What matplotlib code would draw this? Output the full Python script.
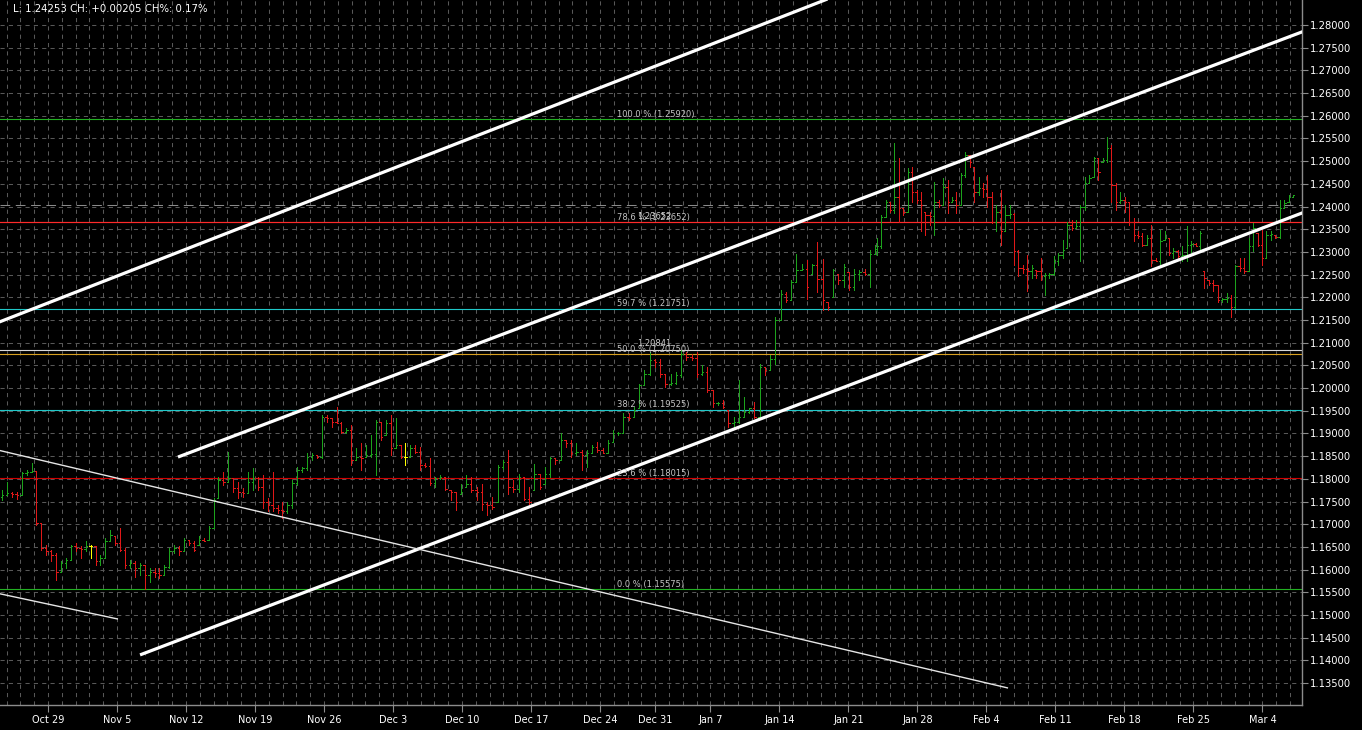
import numpy as np
import matplotlib
matplotlib.use("Agg")
import matplotlib.pyplot as plt
from matplotlib.collections import LineCollection

plt.rcParams["lines.scale_dashes"] = False
plt.rcParams["font.family"] = ["DejaVu Sans"]

# ---- price bars, in three stretches (oldest first) ----
OPEN_FIRST = 1.1760

# late Oct -> mid Dec
HIGH_A = [
    1.1775, 1.1792, 1.1772, 1.1770, 1.1816, 1.1819, 1.1834, 1.1817, 1.1702, 1.1654,
    1.1643, 1.1636, 1.1618, 1.1625, 1.1654, 1.1658, 1.1651, 1.1662, 1.1654, 1.1651,
    1.1632, 1.1669, 1.1687, 1.1673, 1.1691, 1.1647, 1.1621, 1.1618, 1.1614, 1.1610,
    1.1603, 1.1603, 1.1603, 1.1610, 1.1647, 1.1654, 1.1651, 1.1669, 1.1665, 1.1662,
    1.1673, 1.1669, 1.1695, 1.1757, 1.1805, 1.1816, 1.1860, 1.1801, 1.1794, 1.1779,
    1.1816, 1.1823, 1.1805, 1.1808, 1.1757, 1.1816, 1.1742, 1.1750, 1.1750, 1.1797,
    1.1827, 1.1827, 1.1856, 1.1856, 1.1852, 1.1941, 1.1941, 1.1934, 1.1959, 1.1926,
    1.1911, 1.1919, 1.1867, 1.1878, 1.1875, 1.1897, 1.1930, 1.1926, 1.1930, 1.1941,
    1.1934, 1.1875, 1.1878, 1.1875, 1.1875, 1.1871, 1.1834, 1.1845, 1.1805,
]
LOW_A = [
    1.1753, 1.1765, 1.1761, 1.1756, 1.1765, 1.1808, 1.1815, 1.1698, 1.1643, 1.1632,
    1.1618, 1.1577, 1.1595, 1.1603, 1.1621, 1.1640, 1.1625, 1.1640, 1.1625, 1.1610,
    1.1610, 1.1625, 1.1662, 1.1654, 1.1640, 1.1603, 1.1603, 1.1584, 1.1588, 1.1557,
    1.1573, 1.1584, 1.1581, 1.1588, 1.1603, 1.1636, 1.1632, 1.1640, 1.1654, 1.1640,
    1.1654, 1.1662, 1.1665, 1.1691, 1.1757, 1.1786, 1.1794, 1.1772, 1.1757, 1.1761,
    1.1768, 1.1775, 1.1775, 1.1735, 1.1728, 1.1728, 1.1724, 1.1713, 1.1724, 1.1735,
    1.1786, 1.1816, 1.1819, 1.1841, 1.1845, 1.1845, 1.1926, 1.1915, 1.1922, 1.1900,
    1.1900, 1.1830, 1.1841, 1.1819, 1.1849, 1.1849, 1.1808, 1.1886, 1.1897, 1.1852,
    1.1867, 1.1845, 1.1830, 1.1849, 1.1856, 1.1819, 1.1827, 1.1786, 1.1783,
]
CLOSE_A = [
    1.1765, 1.1768, 1.1766, 1.1765, 1.1812, 1.1816, 1.1817, 1.1702, 1.1647, 1.1640,
    1.1632, 1.1595, 1.1614, 1.1621, 1.1651, 1.1647, 1.1645, 1.1651, 1.1651, 1.1618,
    1.1625, 1.1662, 1.1676, 1.1658, 1.1643, 1.1610, 1.1614, 1.1603, 1.1610, 1.1588,
    1.1595, 1.1592, 1.1588, 1.1606, 1.1640, 1.1647, 1.1640, 1.1665, 1.1658, 1.1643,
    1.1665, 1.1664, 1.1691, 1.1753, 1.1797, 1.1794, 1.1801, 1.1779, 1.1772, 1.1768,
    1.1794, 1.1801, 1.1783, 1.1750, 1.1742, 1.1735, 1.1731, 1.1728, 1.1742, 1.1790,
    1.1819, 1.1823, 1.1849, 1.1852, 1.1848, 1.1937, 1.1934, 1.1926, 1.1924, 1.1904,
    1.1908, 1.1841, 1.1849, 1.1845, 1.1852, 1.1854, 1.1926, 1.1893, 1.1922, 1.1867,
    1.1875, 1.1849, 1.1849, 1.1867, 1.1860, 1.1830, 1.1829, 1.1790, 1.1801,
]

# mid Dec -> Jan 24
HIGH_B = [
    1.1808, 1.1804, 1.1775, 1.1771, 1.1789, 1.1808, 1.1804, 1.1782, 1.1789, 1.1749,
    1.1760, 1.1830, 1.1841, 1.1863, 1.1797, 1.1811, 1.1804, 1.1782, 1.1833, 1.1811,
    1.1826, 1.1848, 1.1845, 1.1900, 1.1885, 1.1885, 1.1878, 1.1863, 1.1863, 1.1874,
    1.1881, 1.1867, 1.1885, 1.1907, 1.1903, 1.1944, 1.1944, 1.1958, 1.2010, 1.2039,
    1.2080, 1.2065, 1.2065, 1.2032, 1.2032, 1.2036, 1.2084, 1.2080, 1.2076, 1.2080,
    1.2050, 1.2047, 1.1995, 1.1969, 1.1973, 1.1951, 1.1936, 1.2017, 1.1980, 1.1955,
    1.1969, 1.2054, 1.2047, 1.2072, 1.2157, 1.2216, 1.2212, 1.2238, 1.2296, 1.2274,
    1.2282, 1.2274, 1.2322, 1.2285, 1.2190, 1.2263, 1.2252, 1.2274, 1.2256, 1.2263,
    1.2260, 1.2263, 1.2304, 1.2315,
]
LOW_B = [
    1.1800, 1.1775, 1.1753, 1.1731, 1.1767, 1.1782, 1.1771, 1.1753, 1.1731, 1.1720,
    1.1734, 1.1749, 1.1822, 1.1767, 1.1771, 1.1771, 1.1753, 1.1745, 1.1775, 1.1778,
    1.1789, 1.1804, 1.1833, 1.1841, 1.1870, 1.1848, 1.1852, 1.1819, 1.1826, 1.1856,
    1.1859, 1.1856, 1.1856, 1.1881, 1.1896, 1.1900, 1.1929, 1.1936, 1.1955, 1.2006,
    1.2028, 1.2047, 1.2025, 1.2003, 1.2006, 1.2010, 1.2025, 1.2061, 1.2061, 1.2025,
    1.2028, 1.1991, 1.1958, 1.1962, 1.1955, 1.1914, 1.1914, 1.1922, 1.1936, 1.1944,
    1.1933, 1.1936, 1.2028, 1.2039, 1.2054, 1.2150, 1.2190, 1.2194, 1.2234, 1.2260,
    1.2197, 1.2252, 1.2212, 1.2172, 1.2172, 1.2201, 1.2230, 1.2223, 1.2216, 1.2216,
    1.2238, 1.2249, 1.2223, 1.2296,
]
CLOSE_B = [
    1.1804, 1.1778, 1.1771, 1.1749, 1.1771, 1.1789, 1.1775, 1.1771, 1.1745, 1.1742,
    1.1738, 1.1826, 1.1837, 1.1782, 1.1778, 1.1804, 1.1756, 1.1749, 1.1811, 1.1782,
    1.1811, 1.1845, 1.1841, 1.1885, 1.1878, 1.1856, 1.1859, 1.1852, 1.1856, 1.1870,
    1.1863, 1.1857, 1.1878, 1.1900, 1.1901, 1.1936, 1.1933, 1.1951, 1.2006, 1.2032,
    1.2061, 1.2058, 1.2032, 1.2010, 1.2011, 1.2028, 1.2076, 1.2069, 1.2067, 1.2032,
    1.2036, 1.1995, 1.1966, 1.1967, 1.1958, 1.1922, 1.1925, 1.1936, 1.1947, 1.1955,
    1.1936, 1.2047, 1.2039, 1.2065, 1.2150, 1.2208, 1.2194, 1.2234, 1.2260, 1.2263,
    1.2223, 1.2271, 1.2241, 1.2194, 1.2179, 1.2260, 1.2238, 1.2267, 1.2223, 1.2252,
    1.2256, 1.2252, 1.2296, 1.2307,
]

# Jan 24 -> Mar 7
HIGH_C = [
    1.2330, 1.2382, 1.2415, 1.2411, 1.2540, 1.2506, 1.2396, 1.2484, 1.2488, 1.2437,
    1.2433, 1.2389, 1.2389, 1.2455, 1.2415, 1.2462, 1.2459, 1.2422, 1.2433, 1.2473,
    1.2521, 1.2514, 1.2488, 1.2466, 1.2451, 1.2470, 1.2433, 1.2404, 1.2437, 1.2404,
    1.2404, 1.2385, 1.2304, 1.2271, 1.2293, 1.2271, 1.2260, 1.2286, 1.2253, 1.2253,
    1.2290, 1.2297, 1.2326, 1.2367, 1.2371, 1.2371, 1.2404, 1.2466, 1.2470, 1.2510,
    1.2506, 1.2506, 1.2554, 1.2536, 1.2451, 1.2433, 1.2422, 1.2411, 1.2375, 1.2345,
    1.2341, 1.2337, 1.2360, 1.2286, 1.2348, 1.2345, 1.2330, 1.2308, 1.2304, 1.2312,
    1.2356, 1.2323, 1.2319, 1.2345, 1.2257, 1.2238, 1.2238, 1.2227, 1.2198, 1.2209,
    1.2205, 1.2271, 1.2286, 1.2286, 1.2330, 1.2363, 1.2341, 1.2348, 1.2345, 1.2345,
    1.2337, 1.2415, 1.2415, 1.2426, 1.2426,
]
LOW_C = [
    1.2293, 1.2308, 1.2378, 1.2389, 1.2385, 1.2367, 1.2382, 1.2389, 1.2411, 1.2407,
    1.2345, 1.2337, 1.2360, 1.2337, 1.2400, 1.2404, 1.2385, 1.2411, 1.2385, 1.2404,
    1.2466, 1.2488, 1.2411, 1.2426, 1.2422, 1.2400, 1.2363, 1.2345, 1.2315, 1.2345,
    1.2375, 1.2271, 1.2246, 1.2253, 1.2213, 1.2242, 1.2242, 1.2238, 1.2205, 1.2242,
    1.2249, 1.2271, 1.2286, 1.2308, 1.2348, 1.2352, 1.2279, 1.2393, 1.2451, 1.2466,
    1.2459, 1.2499, 1.2499, 1.2411, 1.2393, 1.2407, 1.2389, 1.2360, 1.2323, 1.2330,
    1.2312, 1.2315, 1.2268, 1.2279, 1.2268, 1.2326, 1.2293, 1.2286, 1.2286, 1.2279,
    1.2279, 1.2293, 1.2312, 1.2301, 1.2220, 1.2227, 1.2213, 1.2190, 1.2190, 1.2190,
    1.2157, 1.2176, 1.2257, 1.2253, 1.2257, 1.2301, 1.2312, 1.2271, 1.2286, 1.2326,
    1.2330, 1.2330, 1.2396, 1.2411, 1.2420,
]
CLOSE_C = [
    1.2312, 1.2378, 1.2411, 1.2393, 1.2422, 1.2396, 1.2389, 1.2477, 1.2433, 1.2415,
    1.2404, 1.2382, 1.2380, 1.2411, 1.2404, 1.2444, 1.2411, 1.2415, 1.2404, 1.2470,
    1.2514, 1.2499, 1.2433, 1.2440, 1.2439, 1.2422, 1.2367, 1.2389, 1.2345, 1.2382,
    1.2384, 1.2301, 1.2264, 1.2262, 1.2257, 1.2264, 1.2257, 1.2246, 1.2249, 1.2251,
    1.2279, 1.2293, 1.2304, 1.2360, 1.2352, 1.2356, 1.2400, 1.2451, 1.2462, 1.2506,
    1.2477, 1.2502, 1.2529, 1.2448, 1.2411, 1.2415, 1.2411, 1.2367, 1.2337, 1.2334,
    1.2315, 1.2330, 1.2282, 1.2280, 1.2323, 1.2330, 1.2297, 1.2301, 1.2290, 1.2293,
    1.2315, 1.2318, 1.2314, 1.2341, 1.2242, 1.2231, 1.2227, 1.2194, 1.2196, 1.2198,
    1.2179, 1.2268, 1.2265, 1.2257, 1.2312, 1.2352, 1.2315, 1.2286, 1.2337, 1.2339,
    1.2332, 1.2396, 1.2407, 1.2422, 1.2425,
]
# first / last bar of each stretch, in trading days from the "Oct 29" bar
SEG_DAYS = [(-3.33, 28.04), (28.41, 59.93), (60.05, 90.22)]

# ---- fibo retracement + horizontal lines ----
FIB_NAMES = ["100.0", "78.6", "59.7", "50.0", "38.2", "23.6", "0.0"]
FIB_PRICES = [1.25920, 1.23652, 1.21751, 1.20750, 1.19525, 1.18015, 1.15575]
HLINE_PRICES = [1.20841, 1.23652]
BID_LINE = 1.2403

# ---- trendlines, (day, price) anchors ----
THICK_LINES = [
    ((-4.0, 1.2140), (60.0, 1.2899)),
    ((9.42, 1.1848), (91.5, 1.2792)),
    ((6.67, 1.1412), (91.5, 1.2393)),
]
THIN_LINES = [
    ((-4.0, 1.1866), (69.57, 1.1339)),
    ((-4.0, 1.1550), (5.07, 1.1491)),
]

DATE_LABELS = ["Oct 29", "Nov 5", "Nov 12", "Nov 19", "Nov 26", "Dec 3", "Dec 10",
               "Dec 17", "Dec 24", "Dec 31", "Jan 7", "Jan 14", "Jan 21", "Jan 28",
               "Feb 4", "Feb 11", "Feb 18", "Feb 25", "Mar 4"]
DATE_DAYS = [0, 5, 10, 15, 20, 25, 30, 35, 40, 44, 48, 53, 58, 63, 68, 73, 78, 83, 88]

HEADER = "L: 1.24253 CH: +0.00205 CH%: 0.17%"

# ---- layout ----
W, H = 1362, 730
XMIN, XMAX = -3.478, 90.87
YMIN, YMAX = 1.13016, 1.28551
GRID = "#585858"
UP, DOWN, DOJI = "#1ca31c", "#e01818", "#ffff00"

fig = plt.figure(figsize=(W / 100, H / 100), dpi=100, facecolor="black")
ax = fig.add_axes([0, 25 / H, 1302 / W, 705 / H], facecolor="black")
ax.set_xlim(XMIN, XMAX)
ax.set_ylim(YMIN, YMAX)

# grid
yt = np.arange(1.135, 1.2801, 0.005)
for y in yt:
    ax.axhline(y, color=GRID, lw=0.75, dashes=(3, 3), zorder=0)
for d in range(-3, 91):
    ax.axvline(d, color=GRID, lw=0.75, dashes=(3, 3), zorder=0)
ax.axhline(BID_LINE, color="#8a8a8a", lw=0.75, dashes=(7, 4), zorder=0)

# fibo lines
fib_colors = ["#22b022", "#ff2a2a", "#20c8c8", "#d8a020", "#20c8c8", "#d00000", "#22b022"]
for name, p, c in zip(FIB_NAMES, FIB_PRICES, fib_colors):
    ax.axhline(p, color=c, lw=0.8, zorder=1)
    ax.annotate(f"{name} % ({p:.5f})", (41.2, p), xytext=(0, 1.6),
                textcoords="offset points", color="#c4c4c4", fontsize=6,
                va="baseline", ha="left", zorder=5)
ax.axhline(HLINE_PRICES[0], color="#d8d8d8", lw=0.8, zorder=1)
ax.axhline(HLINE_PRICES[1], color="#ff2a2a", lw=0.8, zorder=1)
for p in HLINE_PRICES:
    ax.annotate(f"{p:.5f}", (42.7, p), xytext=(0, 2.6), textcoords="offset points",
                color="#d0d0d0", fontsize=6, va="baseline", ha="left", zorder=5)

# bars
highs = HIGH_A + HIGH_B + HIGH_C
lows = LOW_A + LOW_B + LOW_C
closes = CLOSE_A + CLOSE_B + CLOSE_C
xs = np.concatenate([np.linspace(d0, d1, len(c))
                     for (d0, d1), c in zip(SEG_DAYS, [CLOSE_A, CLOSE_B, CLOSE_C])])
opens = [OPEN_FIRST] + closes[:-1]
segs, cols = [], []
w = 0.1
for x, o, h, l, c in zip(xs, opens, highs, lows, closes):
    o = min(max(o, l), h)
    hi, lo = max(h, c, o), min(l, c, o)
    col = DOJI if abs(c - o) < 1e-7 else (UP if c > o else DOWN)
    segs += [[(x, lo), (x, hi)], [(x - w, o), (x, o)], [(x, c), (x + w, c)]]
    cols += [col] * 3
ax.add_collection(LineCollection(segs, colors=cols, linewidths=0.6,
                                 antialiaseds=False, zorder=3))

# trendlines
for (x1, p1), (x2, p2) in THICK_LINES:
    ax.plot([x1, x2], [p1, p2], color="white", lw=2.3, solid_capstyle="butt", zorder=4)
for (x1, p1), (x2, p2) in THIN_LINES:
    ax.plot([x1, x2], [p1, p2], color="#e6e6e6", lw=1.0, solid_capstyle="butt", zorder=4)

# axes
for s in ["top", "left"]:
    ax.spines[s].set_visible(False)
for s in ["right", "bottom"]:
    ax.spines[s].set_color("#8c8c8c")
    ax.spines[s].set_linewidth(1.0)
ax.yaxis.tick_right()
ax.set_yticks(yt)
ax.set_yticklabels([f"{v:.5f}" for v in yt])
ax.tick_params(axis="y", colors="#8c8c8c", labelcolor="white", length=4, width=0.8,
               pad=2, labelsize=7.2)
ax.set_xticks(DATE_DAYS)
ax.set_xticklabels(DATE_LABELS)
ax.tick_params(axis="x", colors="#8c8c8c", labelcolor="white", length=5, width=0.8,
               pad=2, labelsize=7)

fig.text(13 / W, 1 - 9 / H, HEADER, color="white", fontsize=7.3, va="center", ha="left")

fig.savefig("out.png", dpi=100, facecolor="black")
